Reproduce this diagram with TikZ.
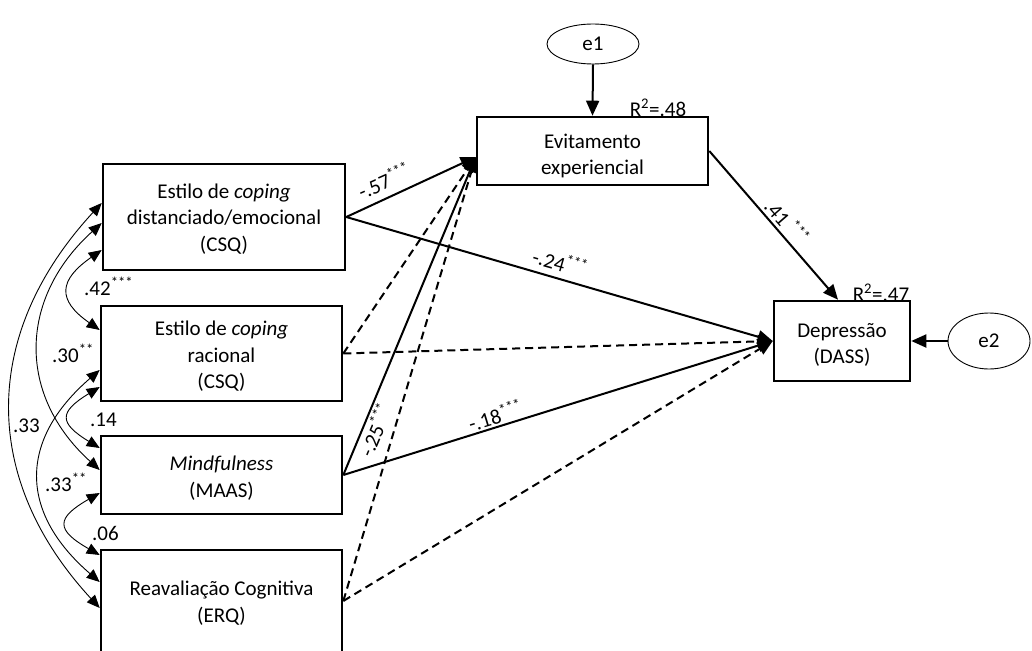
\documentclass[tikz,border=0pt]{standalone}
\usepackage{fontspec}
\setmainfont{Carlito}
\usetikzlibrary{arrows.meta,shapes.geometric}

\newcommand{\sigstars}[1]{\textsuperscript{#1}}

\begin{document}
\begin{tikzpicture}[x=1pt,y=-1pt,
  every node/.style={font=\fontsize{21}{26.5}\selectfont, inner sep=0pt},
  var/.style={draw, line width=2.6pt},
  boxtext/.style={align=center},
  err/.style={draw, ellipse, line width=0.9pt},
  effect/.style={line width=2pt, -{Triangle[length=15pt,width=13pt]}},
  effectns/.style={effect, dash pattern=on 8pt off 5pt},
  cov/.style={line width=0.9pt, {Triangle[length=13pt,width=11pt]}-{Triangle[length=13pt,width=11pt]}},
  coef/.style={anchor=base west}
]
\useasboundingbox (0,0) rectangle (1032,650);
\fill[white] (0,0) rectangle (1032,650);
\clip (0,0) rectangle (1032,650);

% exogenous variables
\node[var, minimum width=242pt, minimum height=106pt] (b1) at (224,217) {};
\node[var, minimum width=241pt, minimum height=95pt] (b2) at (221.5,353.5) {};
\node[var, minimum width=241pt, minimum height=78pt] (b3) at (221.5,475) {};
\node[var, minimum width=241pt, minimum height=102pt] (b4) at (221.5,601) {};
\node[boxtext] (b1t) at ([yshift=-2pt]b1.center)
  {Estilo de \textit{coping}\\distanciado/emocional\\(CSQ)};
\node[boxtext] (b2t) at ([yshift=-3pt]b2.center)
  {Estilo de \textit{coping}\\racional\\(CSQ)};
\node[boxtext] (b3t) at ([yshift=-3pt]b3.center)
  {\textit{Mindfulness}\\(MAAS)};
\node[boxtext] (b4t) at ([yshift=-2pt]b4.center)
  {Reavaliação Cognitiva\\(ERQ)};

% endogenous variables and their errors
\node[var, minimum width=231pt, minimum height=68pt] (ev) at (592.5,151) {};
\node[var, minimum width=136pt, minimum height=80pt] (dep) at (842,341) {};
\node[boxtext] (evt) at ([yshift=-5pt]ev.center) {Evitamento\\experiencial};
\node[boxtext] (dept) at ([yshift=-4pt]dep.center) {Depressão\\(DASS)};
\node[err, minimum width=92pt, minimum height=40pt] (e1) at (593,44) {e1};
\node[err, minimum width=82pt, minimum height=56pt] (e2) at (989,341) {e2};

\node (r1) at (658,108) {R\textsuperscript{2}=.48};
\node (r2) at (881,293) {R\textsuperscript{2}=.47};

% structural paths
\draw[effect]   (b1.east) -- ([yshift=-6pt]ev.west);
\draw[effect]   (b1.east) -- (dep.west);
\draw[effectns] (b2.east) -- ([yshift=-6pt]ev.west);
\draw[effectns] (b2.east) -- (dep.west);
\draw[effect]   (b3.east) -- ([yshift=-6pt]ev.west);
\draw[effect]   (b3.east) -- (dep.west);
\draw[effectns] (b4.east) -- ([yshift=-6pt]ev.west);
\draw[effectns] (b4.east) -- (dep.west);
\draw[effect]   (ev.east) -- ([xshift=-4pt]dep.north);
\draw[effect]   (e1.south) -- (ev.north);
\draw[effect]   (e2.west) -- (dep.east);

% path coefficients
\node[coef, rotate=24]  (c57) at (362,200) {-.57\sigstars{***}};
\node[coef, rotate=-16] (c24) at (531,263) {-.24\sigstars{***}};
\node[coef, rotate=-49] (c41) at (763,207) {.41 \sigstars{***}};
\node[coef, rotate=17]  (c18) at (471,432) {-.18\sigstars{***}};
\node[coef, rotate=67]  (c25) at (372,459) {-.25\sigstars{***}};

% correlations among predictors
\draw[cov] ([yshift=-33pt]b1.west) .. controls +(-43,30) and +(-43,-30) .. ([yshift=23.5pt]b2.west);
\draw[cov] ([yshift=-33.5pt]b2.west) .. controls +(-41,25) and +(-41,-25) .. ([yshift=27pt]b3.west);
\draw[cov] ([yshift=-18pt]b3.west) .. controls +(-44,25) and +(-44,-25) .. ([yshift=46pt]b4.west);
\draw[cov] ([yshift=-6pt]b1.west) .. controls +(-83,75) and +(-83,-75) .. ([yshift=5pt]b3.west);
\draw[cov] ([yshift=-16.5pt]b2.west) .. controls +(-81,70) and +(-81,-70) .. ([yshift=19pt]b4.west);
\draw[cov] ([yshift=14pt]b1.west) .. controls +(-120,130) and +(-120,-130) .. ([yshift=-7pt]b4.west);

\node[coef] (k42) at (84,295) {.42\sigstars{***}};
\node[coef] (k30) at (52,362) {.30\sigstars{**}};
\node[coef] (k14) at (90,426) {.14};
\node[coef] (k33a) at (13,432) {.33};
\node[coef] (k33b) at (45,491) {.33\sigstars{**}};
\node[coef] (k06) at (92,540) {.06};
\end{tikzpicture}
\end{document}
